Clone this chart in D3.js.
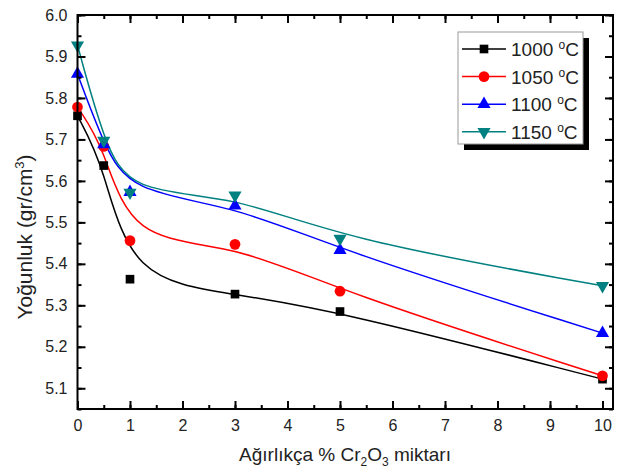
<!DOCTYPE html>
<html>
<head>
<meta charset="utf-8">
<script src="https://cdn.jsdelivr.net/npm/d3@7"></script>
<style>
body { margin: 0; background: #fff; }
text { font-family: "Liberation Sans", Arial, sans-serif; }
</style>
</head>
<body>
<div id="view"></div>
<script>
var width = 618, height = 472;

// veriler
var xValues = [0, 0.5, 1, 3, 5, 10];
var s1000 = [5.757, 5.637, 5.363, 5.327, 5.285, 5.122];
var s1050 = [5.778, 5.683, 5.456, 5.447, 5.334, 5.130];
var s1100 = [5.858, 5.688, 5.573, 5.540, 5.433, 5.233];
var s1150 = [5.927, 5.697, 5.572, 5.565, 5.461, 5.347];
var seriesNames = ["1000", "1050", "1100", "1150"];
var xTicks = [0, 1, 2, 3, 4, 5, 6, 7, 8, 9, 10];
var yTicks = [5.1, 5.2, 5.3, 5.4, 5.5, 5.6, 5.7, 5.8, 5.9, 6.0];

var series = [
	{ name: seriesNames[0], values: s1000, color: "#000000", sym: d3.symbolSquare, size: 75, rot: 0 },
	{ name: seriesNames[1], values: s1050, color: "#ff0000", sym: d3.symbolCircle, size: 90, rot: 0 },
	{ name: seriesNames[2], values: s1100, color: "#0000ff", sym: d3.symbolTriangle, size: 75, rot: 0 },
	{ name: seriesNames[3], values: s1150, color: "#008080", sym: d3.symbolTriangle, size: 75, rot: 180 }
];

var L = 77.5, R = 613, T = 15, B = 409;
var x = d3.scaleLinear().domain([0, 10.2]).range([L, R]);
var y = d3.scaleLinear().domain([5.05, 6.0]).range([B, T]);

var svg = d3.select("#view").append("svg")
	.attr("width", width)
	.attr("height", height);

// çizgiler (B-spline)
var line = d3.line()
	.x(function(d, i) { return x(xValues[i]); })
	.y(function(d) { return y(d); })
	.curve(d3.curveBasis);

var plot = svg.append("g");
series.forEach(function(s) {
	plot.append("path")
		.attr("d", line(s.values))
		.attr("fill", "none")
		.attr("stroke", s.color)
		.attr("stroke-width", 1.5);
});
series.forEach(function(s) {
	plot.selectAll(null)
		.data(s.values).enter()
		.append("path")
		.attr("d", d3.symbol().type(s.sym).size(s.size))
		.attr("transform", function(d, i) {
			return "translate(" + x(xValues[i]) + "," + y(d) + ") rotate(" + s.rot + ")";
		})
		.attr("fill", s.color);
});

// eksenler
var xMinor = d3.range(0, 10.01, 0.5);
var yMinor = d3.range(5.05, 6.001, 0.05);

function axisGroup(axis, tx, ty) {
	var g = svg.append("g").attr("transform", "translate(" + tx + "," + ty + ")").call(axis);
	g.select(".domain").remove();
	g.selectAll("line").attr("stroke", "#000").attr("stroke-width", 2);
	return g;
}

// minor ticks
axisGroup(d3.axisBottom(x).tickValues(xMinor).tickSize(-4).tickFormat(""), 0, B);
axisGroup(d3.axisTop(x).tickValues(xMinor).tickSize(-4).tickFormat(""), 0, T);
axisGroup(d3.axisLeft(y).tickValues(yMinor).tickSize(-4).tickFormat(""), L, 0);
axisGroup(d3.axisRight(y).tickValues(yMinor).tickSize(-4).tickFormat(""), R, 0);

// major ticks
var xb = axisGroup(d3.axisBottom(x).tickValues(xTicks).tickSize(-8).tickPadding(11).tickFormat(d3.format("d")), 0, B);
axisGroup(d3.axisTop(x).tickValues(xTicks).tickSize(-8).tickFormat(""), 0, T);
var yl = axisGroup(d3.axisLeft(y).tickValues(yTicks).tickSize(-8).tickPadding(10).tickFormat(d3.format(".1f")), L, 0);
axisGroup(d3.axisRight(y).tickValues(yTicks).tickSize(-8).tickFormat(""), R, 0);

svg.selectAll(".tick text")
	.attr("fill", "#222")
	.style("font-size", "16px");

// çerçeve
svg.append("rect")
	.attr("x", L).attr("y", T)
	.attr("width", R - L).attr("height", B - T)
	.attr("fill", "none")
	.attr("stroke", "#000")
	.attr("stroke-width", 2);

// eksen başlıkları
var xt = svg.append("text")
	.attr("x", 345).attr("y", 461)
	.attr("text-anchor", "middle")
	.style("font-size", "19px")
	.attr("fill", "#222");
xt.append("tspan").text("Ağırlıkça % Cr");
xt.append("tspan").attr("dy", 5).style("font-size", "12px").text("2");
xt.append("tspan").attr("dy", -5).text("O");
xt.append("tspan").attr("dy", 5).style("font-size", "12px").text("3");
xt.append("tspan").attr("dy", -5).text(" miktarı");

var yt = svg.append("text")
	.attr("transform", "translate(32," + 237 + ") rotate(-90)")
	.attr("text-anchor", "middle")
	.style("font-size", "21px")
	.attr("fill", "#222");
yt.append("tspan").text("Yoğunluk (gr/cm");
yt.append("tspan").attr("dy", -8).style("font-size", "13px").text("3");
yt.append("tspan").attr("dy", 8).text(")");

// lejant
var lg = svg.append("g");
lg.append("rect").attr("x", 464).attr("y", 38).attr("width", 125).attr("height", 112).attr("fill", "#000");
lg.append("rect").attr("x", 458).attr("y", 32).attr("width", 125).attr("height", 112)
	.attr("fill", "#fff").attr("stroke", "#999").attr("stroke-width", 1);

var rows = lg.selectAll(".row")
	.data(series).enter()
	.append("g")
	.attr("class", "row")
	.attr("transform", function(d, i) { return "translate(0," + (49 + i * 27.6) + ")"; });
rows.append("line")
	.attr("x1", 462).attr("x2", 506)
	.attr("stroke", function(d) { return d.color; })
	.attr("stroke-width", 1.5);
rows.append("path")
	.attr("d", function(d) { return d3.symbol().type(d.sym).size(d.size)(); })
	.attr("transform", function(d) { return "translate(484,0) rotate(" + d.rot + ")"; })
	.attr("fill", function(d) { return d.color; });
var lt = rows.append("text")
	.attr("x", 511).attr("y", 7)
	.style("font-size", "19px")
	.attr("fill", "#222");
lt.append("tspan").text(function(d) { return d.name + " "; });
lt.append("tspan").attr("dy", -7).style("font-size", "12px").text("o");
lt.append("tspan").attr("dy", 7).text("C");
</script>
</body>
</html>
